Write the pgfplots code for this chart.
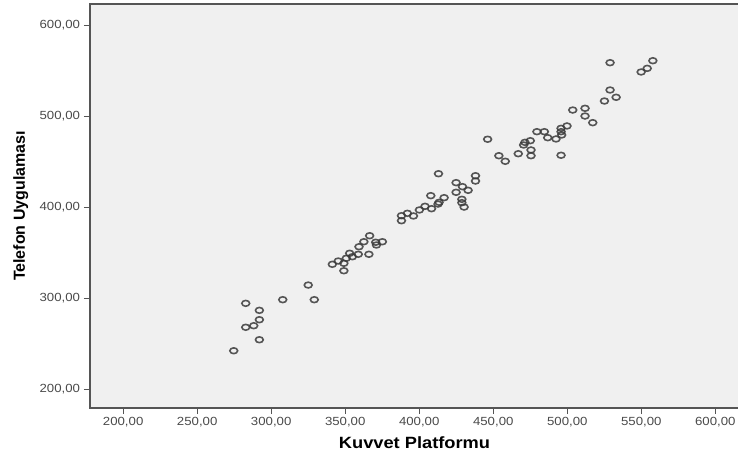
\documentclass[border=0pt]{standalone}
\usepackage{pgfplots}
\pgfplotsset{compat=1.18}
\usepackage{fontspec}
\setmainfont{Liberation Sans}
\definecolor{bg}{HTML}{F0F0F0}
\definecolor{framec}{HTML}{555555}
\definecolor{ticktext}{HTML}{4A4A4A}
\definecolor{markc}{HTML}{3A3A3A}
\begin{document}
\begin{tikzpicture}
\begin{axis}[
  scale only axis, width=649bp, height=404bp,
  xmin=177.6, xmax=616, ymin=179.7, ymax=623.6,
  xtick={200,250,...,600}, ytick={200,300,...,600},
  xtick pos=bottom, ytick pos=left,
  /pgf/number format/assume math mode=true,
  /pgf/number format/fixed, /pgf/number format/fixed zerofill,
  /pgf/number format/precision=2, /pgf/number format/use comma,
  tick label style={font=\fontsize{11.8bp}{13bp}\selectfont, text=ticktext, xscale=1.12},
  tick align=outside, major tick length=6bp,
  every tick/.style={framec, line width=1.3bp},
  axis background/.style={fill=bg},
  axis line style={framec, line width=1.6bp},
  xlabel={Kuvvet Platformu},
  ylabel={Telefon Uygulaması},
  xlabel style={font=\bfseries\fontsize{16.3bp}{19bp}\selectfont, xscale=1.12,
     at={([yshift=-40bp]axis description cs:0.5,0)}, anchor=base},
  ylabel style={font=\bfseries\fontsize{16bp}{19bp}\selectfont,
     at={([xshift=-65bp]axis description cs:0,0.5)}, anchor=base, rotate=0},
]
\addplot[only marks, mark=o, mark size=2.9bp,
  mark options={xscale=1.35, line width=1.6bp, draw=markc, draw opacity=0.85}]
  table {
x y
274.7 242.6
282.8 294.7
282.8 268.4
288.2 270.1
292.0 287.0
292.0 276.7
292.0 254.7
307.8 298.7
325.0 314.8
329.1 298.7
341.3 337.6
345.3 341.2
349.1 338.7
349.1 330.5
350.7 344.2
353.0 349.7
354.8 345.9
358.8 348.6
359.3 356.9
362.6 362.4
366.5 369.0
366.0 348.6
370.6 361.8
371.1 358.8
375.1 362.4
388.0 385.5
388.0 391.0
392.0 393.6
396.1 390.7
400.1 397.3
403.9 401.3
408.3 398.7
407.8 413.0
412.7 403.8
413.4 405.7
416.8 410.8
413.0 437.1
424.9 416.7
424.9 427.3
429.2 422.9
433.0 418.9
428.8 409.0
428.8 405.3
430.3 400.5
438.0 434.9
438.0 429.1
446.2 475.0
453.8 456.9
458.1 450.8
466.9 459.1
470.5 468.7
471.4 471.6
475.0 473.4
475.5 463.2
475.5 456.9
479.5 483.3
484.5 483.3
486.8 476.7
492.4 475.3
495.8 483.3
495.8 487.0
496.2 479.7
499.8 489.6
495.8 457.4
503.7 507.1
512.0 509.0
512.0 500.5
517.2 493.2
525.1 517.0
528.9 529.1
533.0 521.1
528.9 559.1
549.9 548.9
554.0 552.9
557.8 561.3
};
\end{axis}
\pgfresetboundingbox
\path[use as bounding box] ([xshift=-90bp,yshift=-44bp]current axis.south west) rectangle ([xshift=-1bp,yshift=4bp]current axis.north east);
\end{tikzpicture}
\end{document}
